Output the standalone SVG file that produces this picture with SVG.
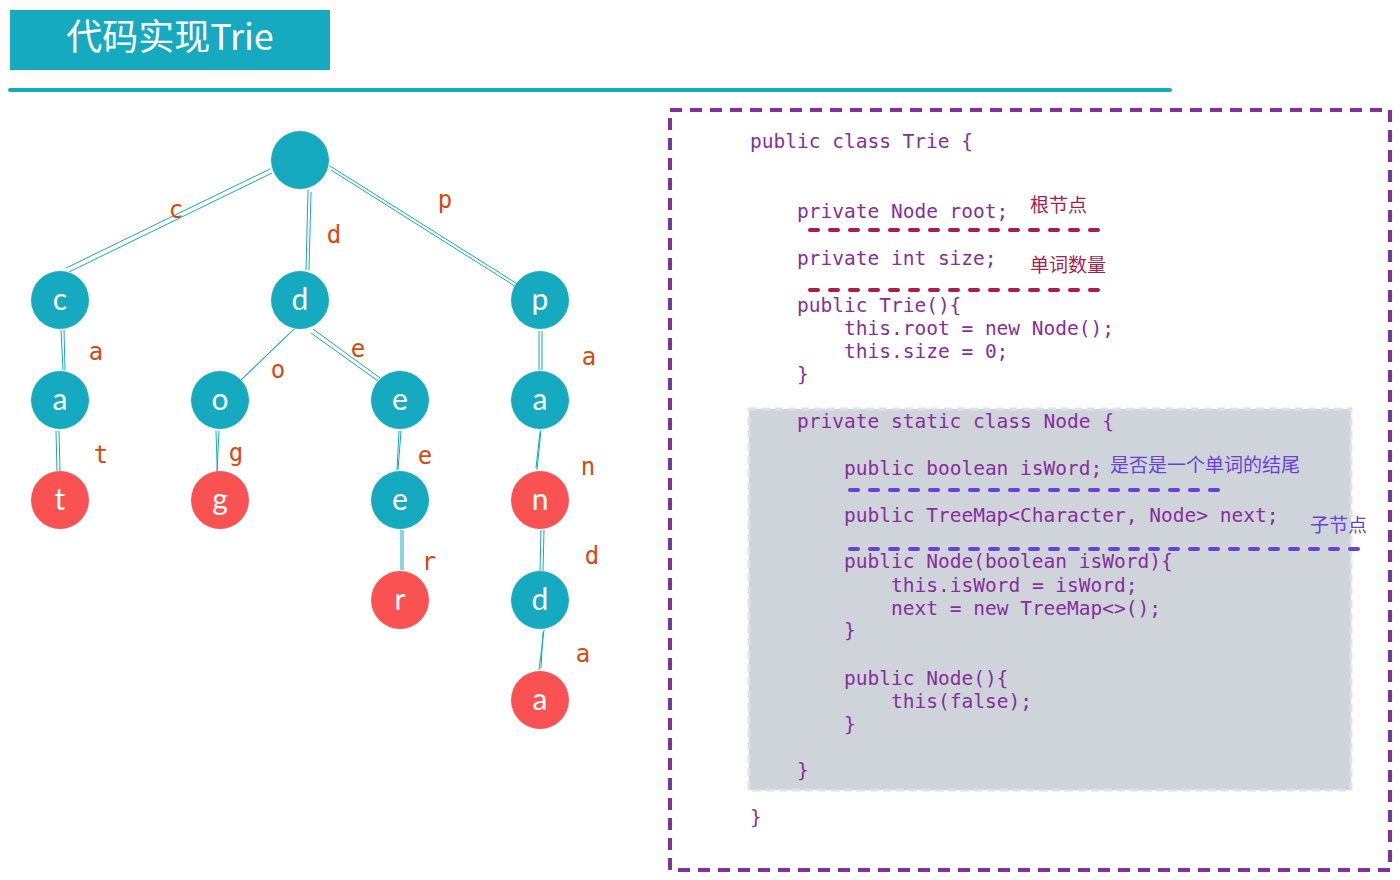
<svg xmlns="http://www.w3.org/2000/svg" width="1400" height="880" viewBox="0 0 1400 880">
<style>
.tn{fill:#15aabf}
.rn{fill:#fa5252}
.nl{fill:#fff;font-family:"Lato","DejaVu Sans",sans-serif;font-size:30px;text-anchor:middle}
.el{fill:#d9480f;font-family:"DejaVu Sans Mono","Liberation Mono",monospace;font-size:24px;text-anchor:middle}
.ed{stroke:#15aabf;stroke-width:1;fill:none}
.code{fill:#862e9c;font-family:"DejaVu Sans Mono","Liberation Mono",monospace;font-size:19.5px;white-space:pre}
.ann1{fill:#a61e4d;font-family:"Noto Sans CJK SC",sans-serif;font-size:19px}
.ann2{fill:#6741d9;font-family:"Noto Sans CJK SC",sans-serif;font-size:19px}
</style>
<rect width="1400" height="880" fill="#fff"/>
<g id="title">
<rect x="10" y="10" width="320" height="60" fill="#15aabf"/>
<text x="170" y="50" fill="#fff" font-family="Noto Sans CJK SC, sans-serif" font-size="36" text-anchor="middle">代码实现Trie</text>
</g>
<line x1="10" y1="90" x2="1170" y2="90" stroke="#15aabf" stroke-width="4" stroke-linecap="round"/>
<g id="connectors">
<path class="ed" d="M270,169 L66,268 M272,173 L69,272"/>
<path class="ed" d="M308,190 L306,270 M311,192 L309,270"/>
<path class="ed" d="M330,166 L519,285 M331,170 L518,288"/>
<path class="ed" d="M61,330 L63,370 M64,330 L65,370"/>
<path class="ed" d="M294,329 L241,380 M292,331 L240,381"/>
<path class="ed" d="M313,329 L380,378 M311,333 L378,381"/>
<path class="ed" d="M539,331 L539,370 M542,331 L542,370"/>
<path class="ed" d="M56,431 L57,471 M59,431 L60,471"/>
<path class="ed" d="M216,431 L218,492 M219,431 L216,492"/>
<path class="ed" d="M399,431 L397,470 M401,431 L398,470"/>
<path class="ed" d="M541,430 L537,470 M540,432 L536,468"/>
<path class="ed" d="M401,530 L401,570 M403,530 L403,570"/>
<path class="ed" d="M541,530 L540,571 M544,530 L543,571"/>
<path class="ed" d="M544,630 L539,670 M543,632 L541,668"/>
</g>
<g id="edge-labels">
<text class="el" x="176" y="218">c</text>
<text class="el" x="334" y="243">d</text>
<text class="el" x="445" y="208">p</text>
<text class="el" x="96" y="360">a</text>
<text class="el" x="278" y="378">o</text>
<text class="el" x="358" y="357">e</text>
<text class="el" x="589" y="365">a</text>
<text class="el" x="101" y="463">t</text>
<text class="el" x="236" y="461">g</text>
<text class="el" x="425" y="464">e</text>
<text class="el" x="588" y="475">n</text>
<text class="el" x="429" y="570">r</text>
<text class="el" x="592" y="564">d</text>
<text class="el" x="583" y="662">a</text>
</g>
<g id="node-root"><circle class="tn" cx="300" cy="160" r="29"/></g>
<g id="node-c"><circle class="tn" cx="60" cy="300" r="29"/><text class="nl" x="60" y="310">c</text></g>
<g id="node-d"><circle class="tn" cx="300" cy="300" r="29"/><text class="nl" x="300" y="310">d</text></g>
<g id="node-p"><circle class="tn" cx="540" cy="300" r="29"/><text class="nl" x="540" y="310">p</text></g>
<g id="node-ca"><circle class="tn" cx="60" cy="400" r="29"/><text class="nl" x="60" y="410">a</text></g>
<g id="node-do"><circle class="tn" cx="220" cy="400" r="29"/><text class="nl" x="220" y="410">o</text></g>
<g id="node-de"><circle class="tn" cx="400" cy="400" r="29"/><text class="nl" x="400" y="410">e</text></g>
<g id="node-pa"><circle class="tn" cx="540" cy="400" r="29"/><text class="nl" x="540" y="410">a</text></g>
<g id="node-cat"><circle class="rn" cx="60" cy="500" r="29"/><text class="nl" x="60" y="510">t</text></g>
<g id="node-dog"><circle class="rn" cx="220" cy="500" r="29"/><text class="nl" x="220" y="510">g</text></g>
<g id="node-dee"><circle class="tn" cx="400" cy="500" r="29"/><text class="nl" x="400" y="510">e</text></g>
<g id="node-pan"><circle class="rn" cx="540" cy="500" r="29"/><text class="nl" x="540" y="510">n</text></g>
<g id="node-deer"><circle class="rn" cx="400" cy="600" r="29"/><text class="nl" x="400" y="610">r</text></g>
<g id="node-pand"><circle class="tn" cx="540" cy="600" r="29"/><text class="nl" x="540" y="610">d</text></g>
<g id="node-panda"><circle class="rn" cx="540" cy="700" r="29"/><text class="nl" x="540" y="710">a</text></g>
<g id="code-box">
<rect x="670" y="110" width="720" height="760" fill="none" stroke="#862e9c" stroke-width="4" stroke-dasharray="12 8"/>
<rect x="749" y="409" width="602" height="381" fill="#ced4da" stroke="#dee2e6" stroke-width="3" stroke-dasharray="8 5"/>
<text class="code" x="750" y="148">public class Trie {</text>
<text class="code" x="797" y="218">private Node root;</text>
<text class="code" x="797" y="265">private int size;</text>
<text class="code" x="797" y="312">public Trie(){</text>
<text class="code" x="844" y="335">this.root = new Node();</text>
<text class="code" x="844" y="358">this.size = 0;</text>
<text class="code" x="797" y="381">}</text>
<text class="code" x="797" y="428">private static class Node {</text>
<text class="code" x="844" y="475">public boolean isWord;</text>
<text class="code" x="844" y="522">public TreeMap&lt;Character, Node&gt; next;</text>
<text class="code" x="844" y="568">public Node(boolean isWord){</text>
<text class="code" x="891" y="592">this.isWord = isWord;</text>
<text class="code" x="891" y="615">next = new TreeMap&lt;&gt;();</text>
<text class="code" x="844" y="637">}</text>
<text class="code" x="844" y="685">public Node(){</text>
<text class="code" x="891" y="708">this(false);</text>
<text class="code" x="844" y="731">}</text>
<text class="code" x="797" y="777">}</text>
<text class="code" x="750" y="824">}</text>
</g>
<g id="annotations">
<line x1="810" y1="230" x2="1100" y2="230" stroke="#a61e4d" stroke-width="4" stroke-linecap="round" stroke-dasharray="8 12"/>
<line x1="810" y1="290" x2="1100" y2="290" stroke="#a61e4d" stroke-width="4" stroke-linecap="round" stroke-dasharray="8 12"/>
<text class="ann1" x="1030" y="212">根节点</text>
<text class="ann1" x="1030" y="272">单词数量</text>
<line x1="850" y1="490" x2="1218" y2="490" stroke="#6741d9" stroke-width="4" stroke-linecap="round" stroke-dasharray="8 12"/>
<line x1="850" y1="549" x2="1358" y2="549" stroke="#6741d9" stroke-width="4" stroke-linecap="round" stroke-dasharray="8 12"/>
<text class="ann2" x="1110" y="472">是否是一个单词的结尾</text>
<text class="ann2" x="1310" y="532">子节点</text>
</g>
</svg>
